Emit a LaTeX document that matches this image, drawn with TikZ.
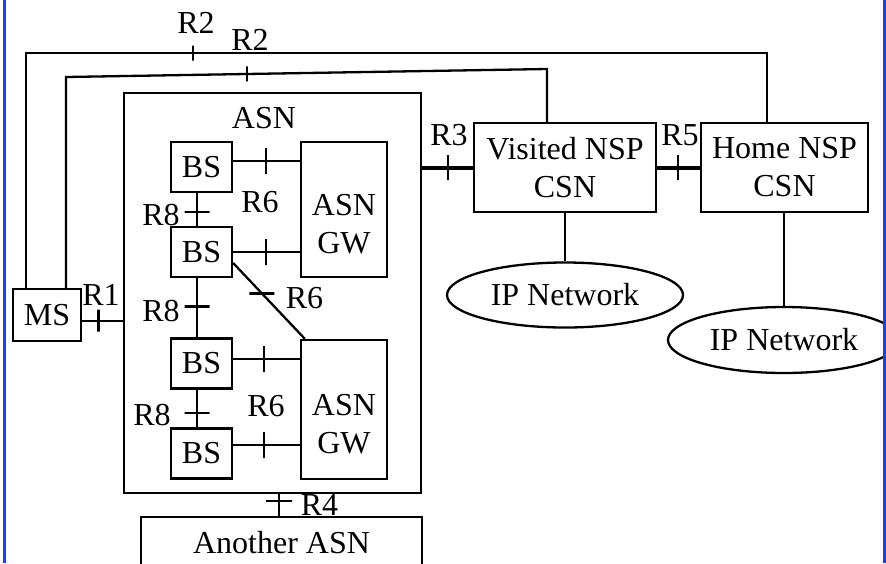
\documentclass[tikz,border=0pt]{standalone}
\usepackage{fontspec}
\setmainfont{Liberation Serif}
\usetikzlibrary{shapes.geometric}
\definecolor{framecol}{RGB}{20,64,250}

\begin{document}
\begin{tikzpicture}[x=0.5pt,y=-0.5pt,
    every node/.style={font=\fontsize{16}{19}\selectfont, inner sep=0pt},
    box/.style={draw, line width=1.15pt, align=center},
    bsbox/.style={box, minimum width=30.5pt, minimum height=25pt},
    gwbox/.style={box, minimum width=43pt},
    cloud/.style={draw, ellipse, line width=1.15pt},
    link/.style={line width=1.15pt},
    trunk/.style={line width=2pt},
    vtick/.style={draw, line width=1.15pt, minimum width=0pt, minimum height=12.5pt},
    htick/.style={draw, line width=1.15pt, minimum height=0pt, minimum width=12.5pt}]
    \useasboundingbox (0,0) rectangle (886,563);
    \clip (0,0) rectangle (886,563);
    \node [box, minimum width=34pt, minimum height=26pt] (ms) at (47,315) {MS};
    \node [box, minimum width=148.5pt, minimum height=200pt] (asn) at (272.5,293) {};
    \node (asnname) at (264,118) {ASN};
    \node [bsbox] (bs1) at (201.5,167) {BS};
    \node [bsbox] (bs2) at (201.5,252) {BS};
    \node [bsbox] (bs3) at (201.5,363.5) {BS};
    \node [bsbox] (bs4) at (201.5,453.5) {BS};
    \node [gwbox, minimum height=67.5pt, label={[align=center,yshift=-7.5pt]center:ASN\\GW}] (gw1) at (344,209.5) {};
    \node [gwbox, minimum height=69.5pt, label={[align=center,yshift=-7.25pt]center:ASN\\GW}] (gw2) at (344,409.5) {};
    \node [box, minimum width=140.5pt, minimum height=26pt] (another) at (281.5,543) {Another ASN};
    \node [box, minimum width=91pt, minimum height=44.5pt] (visited) at (565,167.5) {Visited NSP\\CSN};
    \node [box, minimum width=83.5pt, minimum height=44.5pt] (home) at (784.5,167.5) {Home NSP\\CSN};
    \node [cloud, minimum width=118pt, minimum height=32.5pt] (ip1) at (565,295) {IP Network};
    \node [cloud, minimum width=116pt, minimum height=33pt] (ip2) at (784,340) {IP Network};
    \coordinate (r2a) at (26,53);
    \coordinate (r2b) at (767,53);
    \coordinate (r2c) at (66,77);
    \coordinate (r2d) at (547,69);
    \draw [link] (ms.north -| r2a) -- (r2a) -- node [pos=.225, vtick, minimum height=7.5pt] {} (r2b) -- (r2b |- home.north);
    \draw [link] (ms.north -| r2c) -- (r2c) -- node [pos=.376, vtick, minimum height=7.5pt] {} (r2d) -- (r2d |- visited.north);
    \draw (196,23) node (lr2a) {R2};
    \draw (250,40) node (lr2b) {R2};
    \draw [link] ([yshift=-2.85pt]ms.east) -- node [pos=.4, vtick, minimum height=11pt] {} ([yshift=-2.85pt]ms.east -| asn.west);
    \draw (101,295) node (lr1) {R1};
    \draw [link] ([xshift=-2.25pt]bs1.south) -- node [pos=.57, htick] {} ([xshift=-2.25pt]bs2.north);
    \draw [link] ([xshift=-2.25pt]bs2.south) -- node [pos=.48, htick] {} ([xshift=-2.25pt]bs3.north);
    \draw [link] ([xshift=-2.25pt]bs3.south) -- node [pos=.62, htick] {} ([xshift=-2.25pt]bs4.north);
    \draw (161,215) node (lr8a) {R8};
    \draw (161,311) node (lr8b) {R8};
    \draw (152,415) node (lr8c) {R8};
    \draw [link] ([yshift=3pt]bs1.east) -- node [pos=.49, vtick, minimum height=13pt] {} ([yshift=3pt]bs1.east -| gw1.west);
    \draw [link] (bs2.east) -- node [pos=.49, vtick, minimum height=13pt] {} (bs2.east -| gw1.west);
    \draw [link] ([yshift=2.25pt]bs3.east) -- node [pos=.46, vtick, minimum height=13pt] {} ([yshift=2.25pt]bs3.east -| gw2.west);
    \draw [link] ([yshift=4.25pt]bs4.east) -- node [pos=.46, vtick, minimum height=13pt] {} ([yshift=4.25pt]bs4.east -| gw2.west);
    \draw [link] ([yshift=-5.5pt]bs2.east) -- node [pos=.4, htick] {} ([xshift=2.5pt]gw2.north west);
    \draw (260,202) node (lr6a) {R6};
    \draw (304.5,298) node (lr6b) {R6};
    \draw (266,406) node (lr6c) {R6};
    \draw [trunk] (visited.west -| asn.east) -- node [pos=.51, vtick] {} (visited.west);
    \draw (449,135) node (lr3) {R3};
    \draw [trunk] (visited.east) -- node [pos=.49, vtick] {} (home.west);
    \draw (680,135) node (lr5) {R5};
    \draw [link] ([xshift=-1.25pt]another.north) -- node [pos=.67, htick, minimum width=13pt] {} ([xshift=-1.25pt]another.north |- asn.south);
    \draw (319.5,505) node (lr4) {R4};
    \draw [link] (visited.south) -- (ip1.north);
    \draw [link] (ip2.north |- home.south) -- (ip2.north);
    \draw [framecol, line width=1.35pt] (4.7,0) -- (4.7,563);
    \draw [framecol, line width=1.35pt] (884.7,0) -- (884.7,563);
\end{tikzpicture}
\end{document}
